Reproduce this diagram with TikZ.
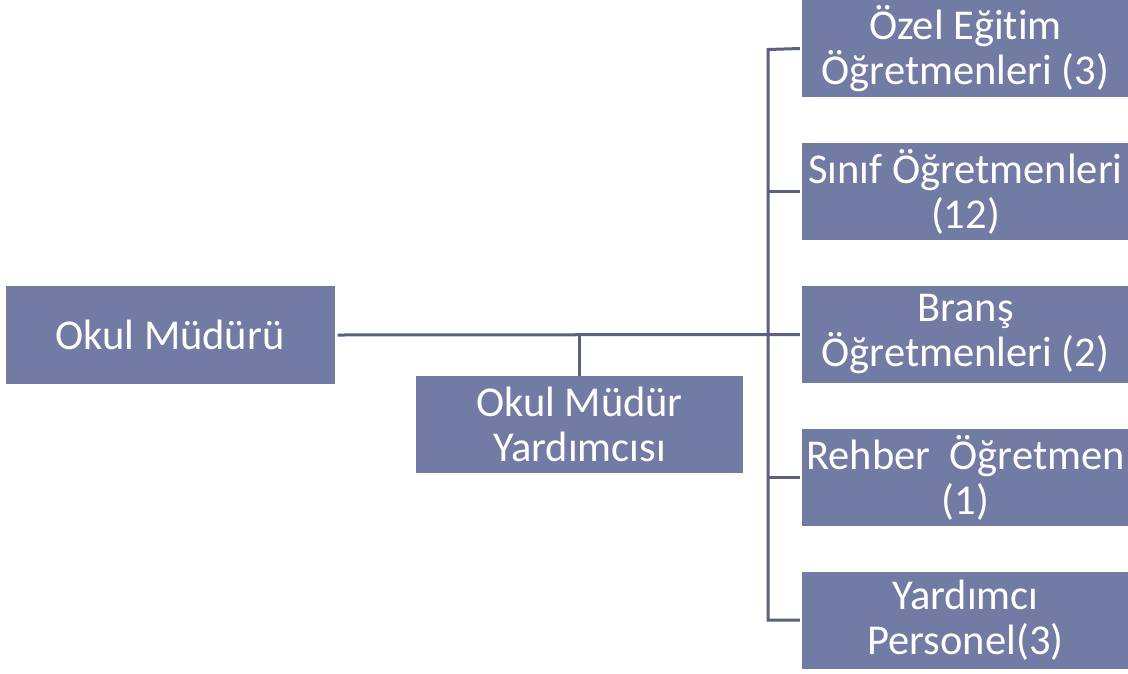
\documentclass[tikz,border=0pt]{standalone}
\usepackage{fontspec}
\setmainfont{Carlito}[Ligatures=NoCommon]
\definecolor{boxfill}{HTML}{717BA3}
\definecolor{linecol}{HTML}{5A6180}
\begin{document}
\begin{tikzpicture}[x=1pt,y=-1pt,
  orgbox/.style={fill=boxfill,draw=none,text=white,minimum width=327pt,minimum height=97pt,inner sep=0pt,align=center,font=\fontsize{42.5}{45}\selectfont},
  conn/.style={draw=linecol,line width=3pt}]
\useasboundingbox (0,0) rectangle (1128,673);
\node[orgbox,minimum width=329pt,minimum height=98pt] (mud) at (170,335) {Okul Müdürü};
\node[orgbox] (yrd) at (579.5,424.5) {Okul Müdür\\Yardımcısı};
\node[orgbox] (r1) at (965.5,48.5) {Özel Eğitim\\Öğretmenleri (3)};
\node[orgbox] (r2) at (965.5,191.5) {Sınıf Öğretmenleri\\(12)};
\node[orgbox] (r3) at (965.5,334.5) {Branş\\Öğretmenleri (2)};
\node[orgbox] (r4) at (965.5,477.5) {Rehber\ \ Öğretmen\\(1)};
\node[orgbox] (r5) at (965.5,620) {Yardımcı\\Personel(3)};
\coordinate (top) at (768,49.5);
\coordinate (bot) at (768,620);
\coordinate (drop) at (579.5,335);
\draw[conn] ([xshift=3pt]mud.east) -- ([xshift=-2pt]r3.west);
\draw[conn] (drop) -- (yrd.north);
\draw[conn] ([xshift=-2pt]r1.west) -- (top) -- (bot) -- ([xshift=-2pt]r5.west);
\draw[conn] (768,191.5) -- ([xshift=-2pt]r2.west);
\draw[conn] (768,477.5) -- ([xshift=-2pt]r4.west);
\end{tikzpicture}
\end{document}
